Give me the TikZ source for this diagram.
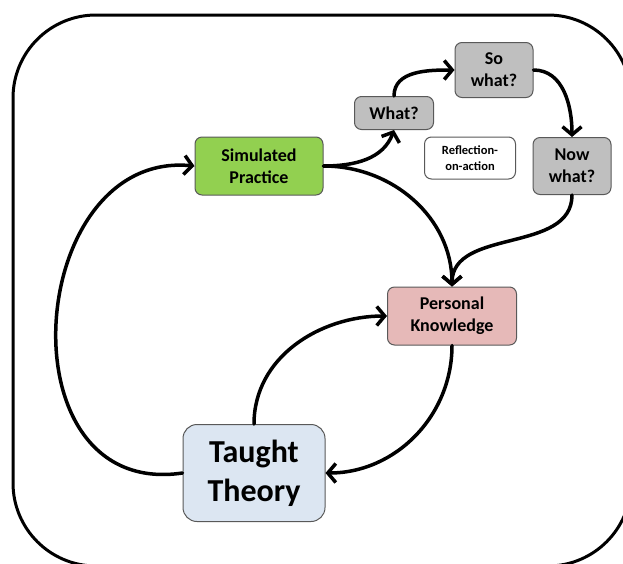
\documentclass[tikz,border=0pt]{standalone}
\usepackage{fontspec}
\setmainfont{Carlito}
\usetikzlibrary{arrows.meta}

\definecolor{simgreen}{HTML}{92D050}
\definecolor{stepgray}{HTML}{BFBFBF}
\definecolor{knowpink}{HTML}{E6B9B8}
\definecolor{theoryblue}{HTML}{DCE6F2}
\definecolor{edgegray}{HTML}{595959}

\begin{document}
\begin{tikzpicture}[
    x=1pt, y=1pt,
    base/.style={draw=edgegray, line width=1pt, align=center, inner sep=0pt, font=\bfseries\fontsize{18}{22}\selectfont},
    block/.style={base, rounded corners=7pt, minimum width=128pt, minimum height=58pt},
    stepbox/.style={base, rounded corners=7pt, fill=stepgray},
    note/.style={base, rounded corners=7pt, fill=white, minimum width=91pt, minimum height=42pt, font=\bfseries\fontsize{12.5}{16}\selectfont},
    arrow/.style={-{Straight Barb[length=8pt,width=19pt]}, line width=3.5pt, line cap=round}
]

    \useasboundingbox (0,0) rectangle (623,-563);
    \clip (0,0) rectangle (623,-563);

    % outer frame
    \draw [line width=3pt, rounded corners=83pt] (13,-15) rectangle (631,-566);

    \node [block, fill=simgreen] (sp) at (259,-166) {Simulated\\Practice};
    \node [block, fill=knowpink, minimum width=129pt] (pk) at (452,-316) {Personal\\Knowledge};
    \node [base, fill=theoryblue, rounded corners=14pt, minimum width=142pt, minimum height=97pt,
           font=\bfseries\fontsize{32}{39}\selectfont] (tt) at (254,-473) {Taught\\Theory};

    \node [stepbox, minimum width=79pt, minimum height=33pt] (what) at (394,-113) {What?};
    \node [stepbox, minimum width=78pt, minimum height=55pt] (sowhat) at (494,-70) {So\\what?};
    \node [stepbox, minimum width=78pt, minimum height=57pt] (nowwhat) at (572,-166) {Now\\what?};
    \node [note] (refl) at (470,-158) {Reflection-\\on-action};

    \draw [arrow] (tt.west) .. controls (0,-500) and (25,-150) .. (sp.west);
    \draw [arrow] (sp.east) to[out=0, in=-110] (what.south);
    \draw [arrow] (what.north) to[out=90, in=180] (sowhat.west);
    \draw [arrow] (sowhat.east) to[out=0, in=90] (nowwhat.north);
    \draw [arrow] (nowwhat.south) to[out=-90, in=90] (pk.north);
    \draw [arrow] (sp.east) to[out=0, in=90] (pk.north);
    \draw [arrow] (tt.north) to[out=90, in=180] (pk.west);
    \draw [arrow] (pk.south) to[out=-90, in=0] (tt.east);

\end{tikzpicture}
\end{document}
